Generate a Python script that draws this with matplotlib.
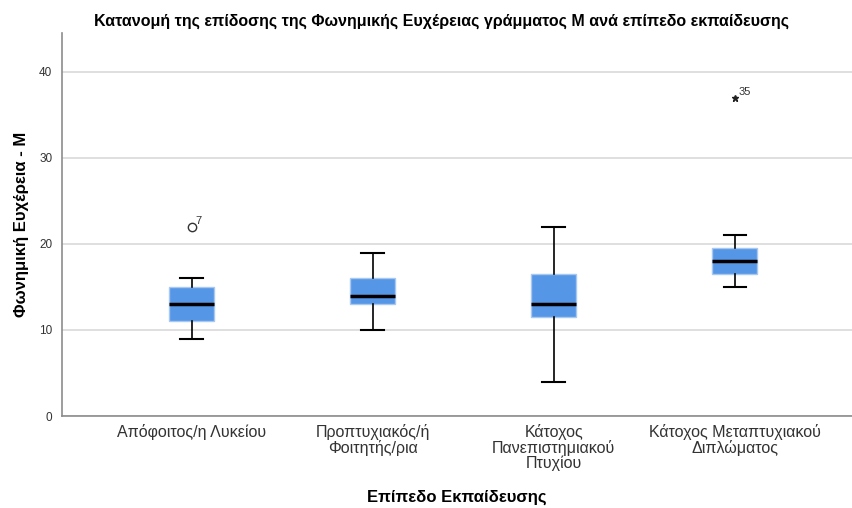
import matplotlib
matplotlib.use("Agg")
import matplotlib.pyplot as plt

plt.rcParams["font.family"] = ["Liberation Sans", "DejaVu Sans"]

# Five-number summaries per education level
categories = ["Απόφοιτος/η Λυκείου", "Προπτυχιακός/ή\nΦοιτητής/ρια",
              "Κάτοχος\nΠανεπιστημιακού\nΠτυχίου", "Κάτοχος Μεταπτυχιακού\nΔιπλώματος"]
whisker_low = [9, 10, 4, 15]
q1 = [11, 13, 11.5, 16.5]
median = [13, 14, 13, 18]
q3 = [15, 16, 16.5, 19.5]
whisker_high = [16, 19, 22, 21]

# Outliers: (category index, value, case label, kind)
outlier_cat = [0, 3]
outlier_val = [22, 37]
outlier_label = ["7", "35"]
outlier_kind = ["o", "*"]

BOX = "#5596e6"
EDGE = "#a9c8f0"
GRID = "#d9d9d9"
SPINE = "#8c8c8c"

fig = plt.figure(figsize=(8.52, 5.08), dpi=100)
ax = fig.add_axes([0.0728, 0.181, 0.927, 0.754])

stats = []
for i, name in enumerate(categories):
    stats.append(dict(label=name, whislo=whisker_low[i], q1=q1[i], med=median[i],
                      q3=q3[i], whishi=whisker_high[i], fliers=[]))

ax.bxp(stats, positions=range(1, len(categories) + 1), widths=0.25,
       patch_artist=True, showfliers=False,
       boxprops=dict(facecolor=BOX, edgecolor=EDGE, linewidth=1),
       medianprops=dict(color="black", linewidth=2.5),
       whiskerprops=dict(color="black", linewidth=1.2),
       capprops=dict(color="black", linewidth=1.5),
       capwidths=0.125, zorder=3)

for c, v, lab, kind in zip(outlier_cat, outlier_val, outlier_label, outlier_kind):
    if kind == "o":
        ax.plot(c + 1, v, marker="o", markersize=6, markerfacecolor="white",
                markeredgecolor="#333333", markeredgewidth=1, zorder=4)
    else:
        ax.plot(c + 1, v, marker="*", markersize=5, color="#222222", zorder=4)
    ax.annotate(lab, (c + 1, v), xytext=(3, 2), textcoords="offset points",
                fontsize=8, color="#333333")

ax.set_xlim(0.2845, 4.646)
ax.set_ylim(0, 44.5)
ax.set_yticks([0, 10, 20, 30, 40])
ax.yaxis.grid(True, color=GRID, linewidth=1.2)
ax.set_axisbelow(True)
ax.tick_params(axis="y", length=0, labelsize=8.5, colors="#333333", pad=7)
ax.tick_params(axis="x", length=0, labelsize=11.5, colors="#333333", pad=6)
for t in ax.get_xticklabels():
    t.set_linespacing(0.95)
for s in ("top", "right"):
    ax.spines[s].set_visible(False)
for s in ("left", "bottom"):
    ax.spines[s].set_color(SPINE)
    ax.spines[s].set_linewidth(1.2)

ax.set_xlabel("Επίπεδο Εκπαίδευσης", fontsize=12, fontweight="bold", labelpad=14)
ax.set_ylabel("Φωνημική Ευχέρεια - Μ", fontsize=12, fontweight="bold", labelpad=7)
ax.set_title("Κατανομή της επίδοσης της Φωνημικής Ευχέρειας γράμματος Μ ανά επίπεδο εκπαίδευσης",
             fontsize=11.5, fontweight="bold", x=0.48, pad=5)

fig.savefig("out.png", dpi=100, facecolor="white")
